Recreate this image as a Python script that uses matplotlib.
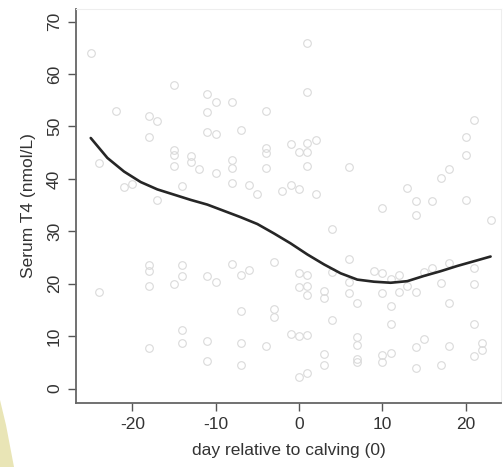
import numpy as np
import matplotlib
matplotlib.use('Agg')
import matplotlib.pyplot as plt
from matplotlib.patches import Polygon

plt.rcParams['font.family'] = ['Liberation Sans', 'DejaVu Sans']

# individual samples: day relative to calving, serum T4 (nmol/L)
day = [-25, -24, -24, -22, -21, -20,
       -18, -18, -18, -18, -18, -18,
       -17, -17,
       -15, -15, -15, -15, -15,
       -14, -14, -14, -14, -14,
       -13, -13, -12,
       -11, -11, -11, -11, -11, -11,
       -10, -10, -10, -10,
       -8, -8, -8, -8, -8,
       -7, -7, -7, -7, -7,
       -6, -6, -5,
       -4, -4, -4, -4, -4,
       -3, -3, -3, -2,
       -1, -1, -1,
       0, 0, 0, 0, 0, 0,
       1, 1, 1, 1, 1, 1, 1, 1, 1, 1,
       2, 2,
       3, 3, 3, 3,
       4, 4, 4,
       6, 6, 6, 6,
       7, 7, 7, 7, 7,
       9,
       10, 10, 10, 10, 10,
       11, 11, 11, 11,
       12, 12, 13, 13,
       14, 14, 14, 14, 14,
       15, 15, 16, 16,
       17, 17, 17,
       18, 18, 18, 18,
       20, 20, 20,
       21, 21, 21, 21, 21,
       22, 22, 23]
t4 = [64, 43, 18.5, 53, 38.5, 39,
      52, 48, 23.6, 22.5, 19.6, 7.7,
      51, 36,
      58, 45.5, 44.5, 42.4, 20,
      38.6, 23.5, 21.5, 11.2, 8.7,
      44.4, 43.2, 41.8,
      56.2, 52.7, 48.9, 21.5, 9, 5.3,
      54.6, 48.5, 41.2, 20.4,
      54.6, 43.6, 42.1, 39.3, 23.7,
      49.4, 21.6, 14.9, 8.7, 4.5,
      38.8, 22.6, 37.2,
      53, 45.9, 44.9, 42.1, 8.1,
      24.1, 15.2, 13.6, 37.6,
      46.6, 38.9, 10.5,
      45.2, 38.1, 22, 19.4, 10.1, 2.3,
      66, 56.6, 46.9, 45.2, 42.5, 21.6, 19.5, 17.9, 10.2, 2.9,
      47.5, 37.1,
      18.6, 17.2, 6.6, 4.5,
      30.4, 22.2, 13.1,
      42.3, 24.8, 20.4, 18.3,
      16.3, 9.9, 8.4, 5.6, 5,
      22.4,
      34.4, 22.1, 18.2, 6.5, 5.1,
      21, 15.8, 12.3, 6.8,
      21.7, 18.4, 38.2, 19.6,
      35.8, 33.1, 18.4, 8, 3.9,
      22.2, 9.4, 35.8, 23.1,
      40.1, 20.1, 4.5,
      41.8, 24, 16.4, 8.1,
      48, 44.6, 36,
      51.2, 23, 20, 12.4, 6.2,
      8.8, 7.3, 32.2]

# smoothed trend
fit_day = [-25, -23, -21, -19, -17, -15, -13, -11, -9, -7, -5, -3, -1,
           1, 3, 5, 7, 9, 11, 13, 15, 17, 19, 21, 23]
fit_t4 = [47.8, 44.0, 41.4, 39.4, 38.0, 37.0, 36.0, 35.1, 33.9, 32.7, 31.4,
          29.6, 27.7, 25.6, 23.7, 22.0, 20.8, 20.4, 20.2, 20.5, 21.5, 22.4,
          23.4, 24.3, 25.2]

x_ticks = [-20, -10, 0, 10, 20]
y_ticks = [0, 10, 20, 30, 40, 50, 60, 70]

fig = plt.figure(figsize=(5.03, 4.67), dpi=100)
ax = fig.add_axes([76 / 503, 1 - 403 / 467, 425 / 503, 394 / 467])

ax.plot(day, t4, 'o', mfc='none', mec='#dadada', mew=0.8, ms=5.5, zorder=2)
ax.plot(fit_day, fit_t4, color='#262626', lw=1.9, zorder=3,
        solid_capstyle='round', solid_joinstyle='round')

ax.set_xlim(-26.77, 24.25)
ax.set_ylim(-2.73, 72.4)
ax.set_xticks(x_ticks)
ax.set_yticks(y_ticks)
ax.set_xticklabels([str(v) for v in x_ticks])
ax.set_yticklabels([str(v) for v in y_ticks], rotation=90, va='center')
ax.tick_params(direction='out', length=6, width=1, color='#555555',
               labelcolor='#333333', labelsize=12.5, pad=4)

for s in ['left', 'bottom']:
    ax.spines[s].set_color('#666666')
    ax.spines[s].set_linewidth(1.3)
for s in ['top', 'right']:
    ax.spines[s].set_color('#eeeeee')
    ax.spines[s].set_linewidth(0.8)

ax.set_xlabel('day relative to calving (0)', fontsize=12.5, color='#333333', labelpad=8)
ax.set_ylabel('Serum T4 (nmol/L)', fontsize=12.5, color='#333333', labelpad=8)

# beige corner decoration from the source page
fig.patches.append(Polygon([(0, 1 - 400 / 467), (6 / 503, 1 - 425 / 467),
                            (14 / 503, 0), (0, 0)],
                           closed=True, transform=fig.transFigure,
                           facecolor='#e9e5b6', edgecolor='none', zorder=0))

fig.savefig('out.png', dpi=100)
